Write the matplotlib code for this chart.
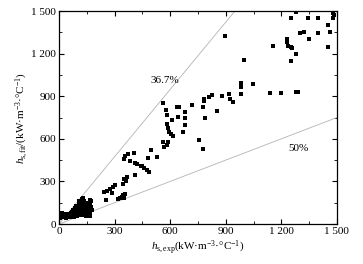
import matplotlib
matplotlib.use("Agg")
import matplotlib.pyplot as plt
from matplotlib.ticker import MultipleLocator, FuncFormatter
import numpy as np

plt.rcParams['font.family'] = ['Liberation Serif', 'DejaVu Serif']
plt.rcParams['mathtext.fontset'] = 'custom'
plt.rcParams['mathtext.rm'] = 'Liberation Serif'
plt.rcParams['mathtext.it'] = 'Liberation Serif:italic'

h_exp = [
    # dense cluster near origin
    5, 8, 12, 15, 20, 25, 28, 32, 35, 40, 45, 50, 55, 60, 62, 3, 18, 38, 48,
    65, 70, 72, 75, 78, 80, 82, 85, 88, 90, 92, 95, 98, 100, 102, 105, 108, 110,
    112, 115, 118, 120, 122, 125, 128, 130, 132, 135, 138, 140, 142, 145, 148,
    150, 152, 155, 158, 160, 162, 165, 168, 170, 172, 175, 165, 178, 110, 130,
    # low-middle
    243, 257, 275, 293, 302, 284, 254, 320, 329, 338, 347, 356, 344, 352,
    347, 351, 362, 365, 410, 352, 358, 374, 383, 405, 410, 441, 457, 475, 484,
    419, 449, 496, 479, 530, 565, 581, 586, 561,
    # middle
    581, 586, 595, 604, 615, 608, 576, 584, 563, 635, 644, 647, 672, 680, 678,
    682, 719, 755, 779, 786, 779, 782, 784, 810, 825, 854, 881, 919, 923, 937,
    980, 982, 982, 1045, 1139, 1201, 1277, 1288,
    # upper
    896, 1000, 1153, 1232, 1232, 1237, 1250, 1259, 1252, 1277, 1252, 1277,
    1345, 1399, 1300, 1324, 1351, 1396, 1453, 1462, 1453, 1480, 1486, 1480,
]
h_fit = [
    55, 62, 48, 70, 58, 52, 66, 60, 72, 50, 64, 56, 70, 48, 62, 45, 75, 45, 74,
    75, 58, 88, 65, 100, 52, 80, 110, 68, 95, 125, 55, 85, 115, 70, 100, 135, 60,
    90, 120, 75, 150, 105, 175, 65, 130, 90, 160, 110, 70, 140, 55, 100,
    125, 80, 150, 60, 110, 95, 170, 140, 75, 120, 160, 55, 100, 160, 180,
    223, 232, 244, 263, 275, 220, 167, 176, 181, 192, 197, 211, 204, 185,
    284, 319, 305, 333, 343, 460, 479, 495, 444, 500, 427, 408, 392, 378, 364,
    425, 406, 521, 467, 472, 542, 558, 577, 577,
    704, 674, 650, 636, 620, 730, 800, 770, 850, 822, 756, 824, 645, 697, 749,
    791, 840, 589, 528, 749, 826, 866, 878, 894, 908, 798, 899, 915, 883, 857,
    913, 962, 990, 984, 920, 920, 927, 927,
    1324, 1153, 1254, 1301, 1285, 1254, 1244, 1237, 1150, 1197, 1454, 1491,
    1454, 1454, 1347, 1354, 1301, 1343, 1401, 1354, 1250, 1454, 1472, 1484,
]
bounds = [0.367, 0.5]
bound_labels = ["36.7%", "50%"]

fig = plt.figure(figsize=(3.63, 2.64), dpi=100)
ax = fig.add_axes([0.1625, 0.1515, 0.7655, 0.8065])

xs = np.array([0, 1500])
ax.plot(xs, xs / (1 - bounds[0]), color='0.7', lw=0.6)
ax.plot(xs, xs * (1 - bounds[1]), color='0.7', lw=0.6)
ax.scatter(h_exp, h_fit, marker='s', s=9, c='black', linewidths=0, zorder=3)

ax.text(572, 1014, bound_labels[0], fontsize=8, ha='center', va='center')
ax.text(1290, 535, bound_labels[1], fontsize=8, ha='center', va='center')

ax.set_xlim(0, 1500)
ax.set_ylim(0, 1500)
fmt = FuncFormatter(lambda v, p: f"{int(v):,}".replace(",", " "))
for axis in (ax.xaxis, ax.yaxis):
    axis.set_major_locator(MultipleLocator(300))
    axis.set_minor_locator(MultipleLocator(150))
    axis.set_major_formatter(fmt)
ax.tick_params(which='both', direction='in', top=True, right=True, labelsize=8, pad=2)
ax.tick_params(which='major', length=3.5, width=0.8)
ax.tick_params(which='minor', length=2, width=0.6)
for sp in ax.spines.values():
    sp.set_linewidth(0.9)

# Liberation Serif has no U+2103, so the degree sign and C are written apart
ax.set_xlabel(r"$h_{\rm s,exp}$(kW·m$^{-3}$·°C$^{-1}$)", fontsize=8, labelpad=2)
ax.set_ylabel(r"$h_{\rm s,fit}$/(kW·m$^{-3}$·°C$^{-1}$)", fontsize=8, labelpad=1)

fig.savefig("out.png", dpi=100)
